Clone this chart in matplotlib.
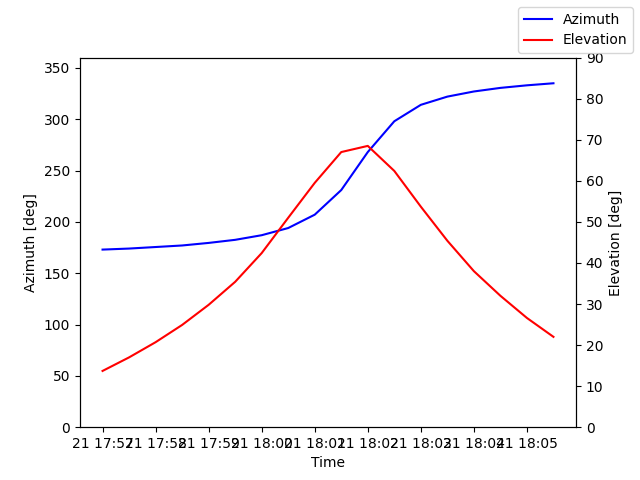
import matplotlib
matplotlib.use("Agg")
import matplotlib.pyplot as plt
import matplotlib.dates as mdates
import pandas as pd

times = pd.date_range("2024-01-21 17:57:00", periods=18, freq="30s")
azimuth = [173, 174, 175.5, 177, 179.5, 182.5, 187, 194, 207, 231, 268, 298, 314, 322, 327, 330.5, 333, 335]
elevation = [13.7, 17, 20.7, 24.9, 29.8, 35.4, 42.4, 51, 59.5, 67, 68.5, 62.4, 53.7, 45.4, 38, 32, 26.6, 22]

fig, ax = plt.subplots(figsize=(6.4, 4.8), dpi=100)
l1, = ax.plot(times, azimuth, color="blue", label="Azimuth")
ax.set_ylim(0, 360)
ax.set_ylabel("Azimuth [deg]")
ax.set_xlabel("Time")
ax2 = ax.twinx()
l2, = ax2.plot(times, elevation, color="red", label="Elevation")
ax2.set_ylim(0, 90)
ax2.set_ylabel("Elevation [deg]")
ax.xaxis.set_major_locator(mdates.MinuteLocator())
ax.xaxis.set_major_formatter(mdates.DateFormatter("%d %H:%M"))
fig.legend(handles=[l1, l2], loc="upper right")
fig.savefig("out.png")
